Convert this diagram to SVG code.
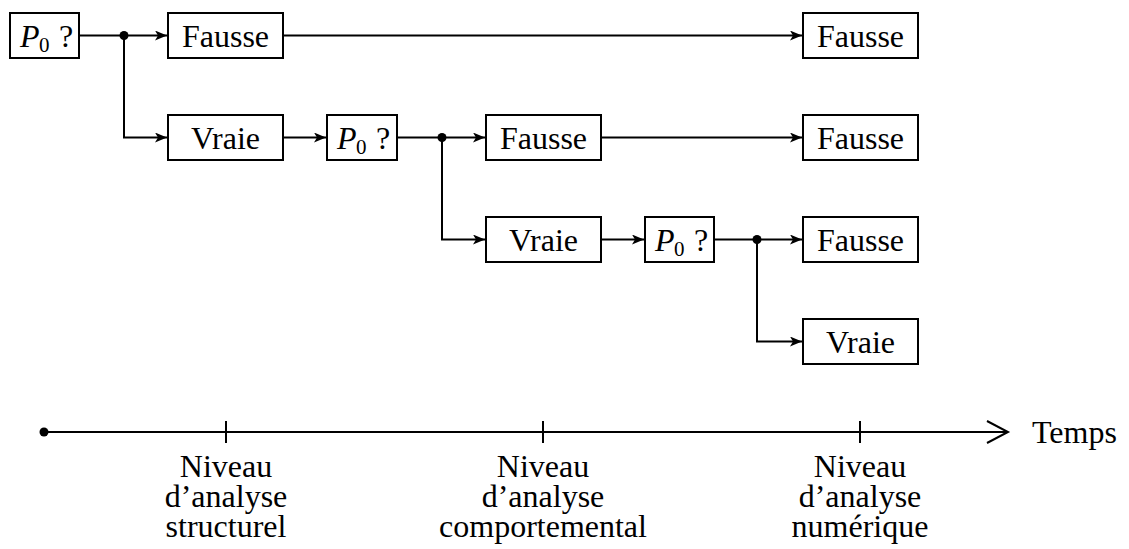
<svg xmlns="http://www.w3.org/2000/svg" width="1129" height="549" viewBox="0 0 1129 549">
<style>
.box{fill:#fff;stroke:#000;stroke-width:2}
.t{font-family:'Liberation Serif','DejaVu Serif',serif;font-size:32px;fill:#000;text-anchor:middle}
.ts{font-family:'Liberation Serif','DejaVu Serif',serif;font-size:32px;fill:#000}
.c{fill:none;stroke:#000;stroke-width:2}
</style>
<defs>
<marker id="ah" markerUnits="userSpaceOnUse" markerWidth="14" markerHeight="12" refX="12" refY="5" orient="auto">
<path d="M0,0 L12,5 L0,10 L3,5 z" fill="#000"/>
</marker>
</defs>
<rect width="1129" height="549" fill="#fff"/>
<g id="connectors">
<path class="c" d="M79,35.5 H167" marker-end="url(#ah)"/>
<path class="c" d="M124,35.5 V137.5 H167" marker-end="url(#ah)"/>
<path class="c" d="M283,35.5 H802" marker-end="url(#ah)"/>
<path class="c" d="M283,137.5 H326" marker-end="url(#ah)"/>
<path class="c" d="M397,137.5 H485" marker-end="url(#ah)"/>
<path class="c" d="M442,137.5 V239.5 H485" marker-end="url(#ah)"/>
<path class="c" d="M601,137.5 H802" marker-end="url(#ah)"/>
<path class="c" d="M601,239.5 H644" marker-end="url(#ah)"/>
<path class="c" d="M714,239.5 H802" marker-end="url(#ah)"/>
<path class="c" d="M757,239.5 V341.5 H802" marker-end="url(#ah)"/>
<circle cx="124" cy="35.5" r="4.5"/>
<circle cx="442" cy="137.5" r="4.5"/>
<circle cx="757" cy="239.5" r="4.5"/>
</g>
<g id="q1"><rect class="box" x="10" y="13" width="69" height="45"/>
<text class="ts" y="46.5" font-family="Liberation Serif, DejaVu Serif, serif"><tspan x="20" font-style="italic">P</tspan><tspan x="39" dy="5" font-size="21">0</tspan><tspan x="59" dy="-5">?</tspan></text></g>
<g id="f1"><rect class="box" x="168" y="13" width="115" height="45"/><text class="t" x="225.5" y="46.5">Fausse</text></g>
<g id="v1"><rect class="box" x="168" y="115" width="115" height="45"/><text class="t" x="225.5" y="148.5">Vraie</text></g>
<g id="f1r"><rect class="box" x="803" y="13" width="115" height="45"/><text class="t" x="860.5" y="46.5">Fausse</text></g>
<g id="q2"><rect class="box" x="327" y="115" width="70" height="45"/>
<text class="ts" y="148.5"><tspan x="337" font-style="italic">P</tspan><tspan x="356" dy="5" font-size="21">0</tspan><tspan x="376" dy="-5">?</tspan></text></g>
<g id="f2"><rect class="box" x="486" y="115" width="115" height="45"/><text class="t" x="543.5" y="148.5">Fausse</text></g>
<g id="f2r"><rect class="box" x="803" y="115" width="115" height="45"/><text class="t" x="860.5" y="148.5">Fausse</text></g>
<g id="v2"><rect class="box" x="486" y="217" width="115" height="45"/><text class="t" x="543.5" y="250.5">Vraie</text></g>
<g id="q3"><rect class="box" x="645" y="217" width="69" height="45"/>
<text class="ts" y="250.5"><tspan x="655" font-style="italic">P</tspan><tspan x="674" dy="5" font-size="21">0</tspan><tspan x="694" dy="-5">?</tspan></text></g>
<g id="f3"><rect class="box" x="803" y="217" width="115" height="45"/><text class="t" x="860.5" y="250.5">Fausse</text></g>
<g id="v3"><rect class="box" x="803" y="319" width="115" height="45"/><text class="t" x="860.5" y="352.5">Vraie</text></g>
<g id="timeline">
<path class="c" d="M44,432 H1007"/>
<path class="c" d="M987,421 L1008,432 L987,443"/>
<circle cx="44" cy="432" r="4.5"/>
<path class="c" d="M226,421 V443 M543,421 V443 M860,421 V443"/>
<text class="ts" x="1032" y="443">Temps</text>
<text class="t" x="226" y="477">Niveau</text>
<text class="t" x="226" y="507">d’analyse</text>
<text class="t" x="226" y="537">structurel</text>
<text class="t" x="543" y="477">Niveau</text>
<text class="t" x="543" y="507">d’analyse</text>
<text class="t" x="543" y="537">comportemental</text>
<text class="t" x="860" y="477">Niveau</text>
<text class="t" x="860" y="507">d’analyse</text>
<text class="t" x="860" y="537">numérique</text>
</g>
</svg>
